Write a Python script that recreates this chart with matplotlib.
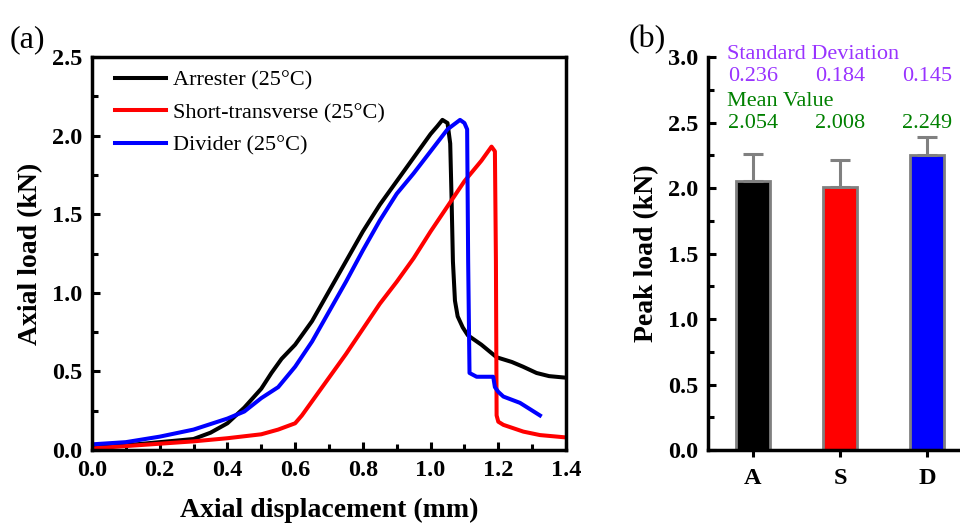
import matplotlib
matplotlib.use("Agg")
import matplotlib.pyplot as plt
from matplotlib.ticker import MultipleLocator

plt.rcParams["font.family"] = "Liberation Serif"

# --- (a) load-displacement curves ---
arr_x = [0.0, 0.1, 0.2, 0.3, 0.35, 0.4, 0.45, 0.5, 0.53, 0.56, 0.6, 0.65, 0.7, 0.75, 0.8,
         0.85, 0.9, 0.95, 1.0, 1.02, 1.035, 1.05, 1.058, 1.062, 1.066, 1.072, 1.08,
         1.095, 1.11, 1.15, 1.195, 1.24, 1.273, 1.313, 1.35, 1.4]
arr_y = [0.02, 0.03, 0.05, 0.07, 0.11, 0.17, 0.27, 0.39, 0.49, 0.58, 0.67, 0.82, 1.01, 1.20, 1.39,
         1.56, 1.71, 1.86, 2.01, 2.06, 2.10, 2.08, 1.95, 1.60, 1.20, 0.95, 0.85,
         0.78, 0.73, 0.67, 0.59, 0.56, 0.53, 0.49, 0.47, 0.46]

st_x = [0.0, 0.1, 0.2, 0.3, 0.4, 0.5, 0.55, 0.6, 0.62, 0.65, 0.7, 0.75, 0.8, 0.85, 0.9,
        0.95, 1.0, 1.05, 1.1, 1.15, 1.18, 1.19, 1.193, 1.195, 1.2, 1.215, 1.274, 1.323, 1.4]
st_y = [0.01, 0.025, 0.04, 0.055, 0.075, 0.10, 0.13, 0.17, 0.22, 0.31, 0.46, 0.61, 0.77, 0.93, 1.07,
        1.22, 1.39, 1.55, 1.71, 1.84, 1.93, 1.90, 1.2, 0.22, 0.18, 0.16, 0.117, 0.095, 0.08]

div_x = [0.0, 0.1, 0.2, 0.3, 0.4, 0.45, 0.5, 0.55, 0.6, 0.65, 0.7, 0.75, 0.8, 0.85, 0.9,
         0.95, 1.0, 1.05, 1.087, 1.1, 1.108, 1.111, 1.115, 1.136, 1.185, 1.19, 1.2,
         1.215, 1.264, 1.323]
div_y = [0.036, 0.05, 0.085, 0.13, 0.20, 0.245, 0.33, 0.40, 0.53, 0.69, 0.88, 1.07, 1.27, 1.46, 1.63,
         1.76, 1.90, 2.04, 2.10, 2.08, 2.04, 1.2, 0.49, 0.466, 0.466, 0.40, 0.37,
         0.34, 0.30, 0.22]

# --- (b) peak load statistics ---
groups = ["A", "S", "D"]
mean_vals = [2.054, 2.008, 2.249]
std_vals = [0.236, 0.184, 0.145]
err_drawn = [0.205, 0.205, 0.14]
bar_colors = ["black", "red", "blue"]

fig = plt.figure(figsize=(9.6, 5.24), dpi=100)

ax1 = fig.add_axes([0.0958, 0.1412, 0.4938, 0.7500])
ax1.plot(arr_x, arr_y, color="black", lw=2.9, label="Arrester (25°C)")
ax1.plot(st_x, st_y, color="red", lw=2.9, label="Short-transverse (25°C)")
ax1.plot(div_x, div_y, color="blue", lw=2.9, label="Divider (25°C)")
ax1.set_xlim(0, 1.4)
ax1.set_ylim(0, 2.5)
ax1.xaxis.set_major_locator(MultipleLocator(0.2))
ax1.xaxis.set_minor_locator(MultipleLocator(0.1))
ax1.yaxis.set_major_locator(MultipleLocator(0.5))
ax1.yaxis.set_minor_locator(MultipleLocator(0.25))
ax1.tick_params(which="both", direction="in", width=2.2, labelsize=17.5)
ax1.tick_params(which="major", length=6, pad=7)
ax1.tick_params(which="minor", length=4)
for lab in ax1.get_xticklabels() + ax1.get_yticklabels():
    lab.set_fontweight("bold")
for s in ax1.spines.values():
    s.set_linewidth(2.5)
ax1.set_xlabel("Axial displacement (mm)", fontsize=20, fontweight="bold", labelpad=12)
ax1.set_ylabel("Axial load (kN)", fontsize=20, fontweight="bold", labelpad=6)
ax1.legend(loc="upper left", bbox_to_anchor=(0.03, 0.99), borderaxespad=0,
           frameon=False, fontsize=16, handlelength=2.3,
           handletextpad=0.3, labelspacing=0.55)
fig.text(0.01, 0.91, "(a)", fontsize=23)

ax2 = fig.add_axes([0.7375, 0.1412, 0.2625, 0.7500])
xpos = range(1, len(groups) + 1)
ax2.bar(xpos, mean_vals, width=0.4, color=bar_colors, edgecolor="#808080", linewidth=2,
        yerr=[[0] * 3, err_drawn], error_kw=dict(ecolor="#808080", elinewidth=2.2,
                                                 capsize=7, capthick=2.2))
ax2.set_xlim(0.483, 3.38)
ax2.set_ylim(0, 3.0)
ax2.set_xticks(list(xpos))
ax2.set_xticklabels(groups)
ax2.yaxis.set_major_locator(MultipleLocator(0.5))
ax2.yaxis.set_minor_locator(MultipleLocator(0.25))
ax2.tick_params(axis="y", which="both", direction="in", width=2.2, labelsize=17.5)
ax2.tick_params(axis="y", which="major", length=6, pad=7)
ax2.tick_params(axis="y", which="minor", length=4)
ax2.tick_params(axis="x", direction="out", width=2.2, length=5, labelsize=17.5, pad=8)
for lab in ax2.get_xticklabels() + ax2.get_yticklabels():
    lab.set_fontweight("bold")
ax2.spines["top"].set_visible(False)
ax2.spines["right"].set_visible(False)
for s in ("left", "bottom"):
    ax2.spines[s].set_linewidth(2.5)
ax2.set_ylabel("Peak load (kN)", fontsize=20, fontweight="bold", labelpad=6)

purple = "#9933ff"
green = "#008000"
ax2.text(0.7, 3.02, "Standard Deviation", color=purple, fontsize=16, va="center", ha="left")
ax2.text(0.7, 2.66, "Mean Value", color=green, fontsize=16, va="center", ha="left")
for i, x in enumerate(xpos):
    ax2.text(x, 2.85, f"{std_vals[i]:.3f}", color=purple, fontsize=16, ha="center", va="center")
    ax2.text(x, 2.49, f"{mean_vals[i]:.3f}", color=green, fontsize=16, ha="center", va="center")
fig.text(0.655, 0.91, "(b)", fontsize=23)

fig.savefig("out.png", dpi=100)
